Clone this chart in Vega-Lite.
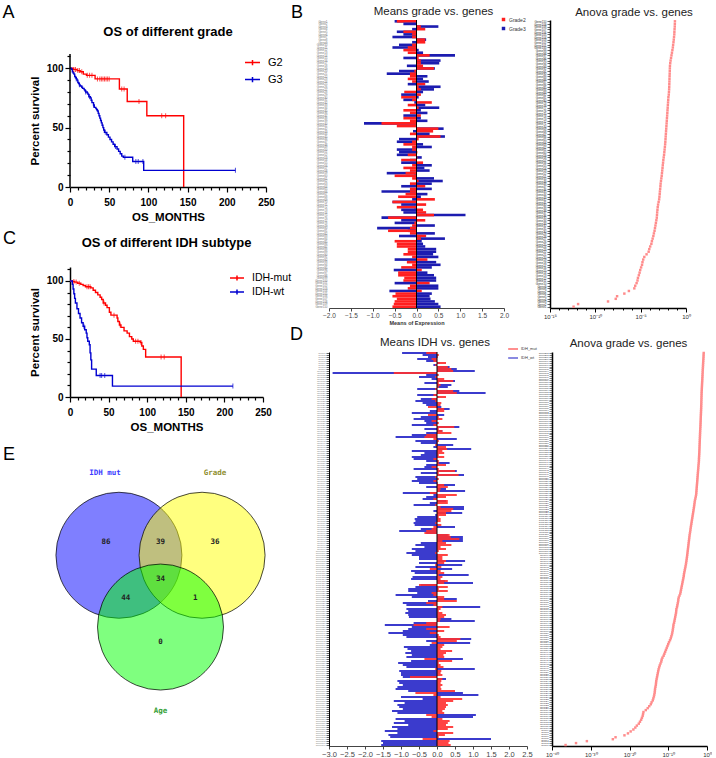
{
"$schema":"https://vega.github.io/schema/vega-lite/v6.json",
"padding":{"left":2,"top":3,"right":0,"bottom":0},
"config":{"view":{"stroke":null},"font":"Liberation Sans","axis":{"grid":false,"labelFlush":false,"labelOverlap":false},"title":{"font":"Liberation Sans"}},
"spacing":-2,
"resolve":{"scale":{"color":"independent","fill":"independent"}},
"hconcat":[
{"vconcat":[
 {"width":196,"height":167,
  "title":{"text":"OS of different grade","fontSize":13,"fontWeight":"bold","color":"#000","offset":0,"dy":35},
  "resolve":{"axis":{"x":"independent","y":"independent"}},
  "layer":[
   {"data":{"values":[
     {"k":"G2","t":0,"s":100},{"k":"G2","t":4,"s":99},{"k":"G2","t":9,"s":98},{"k":"G2","t":13,"s":97},{"k":"G2","t":17,"s":95},{"k":"G2","t":21,"s":94},{"k":"G2","t":32,"s":91},{"k":"G2","t":63,"s":82.5},{"k":"G2","t":73,"s":72},{"k":"G2","t":98,"s":60},{"k":"G2","t":145,"s":0},
     {"k":"G3","t":0,"s":100},{"k":"G3","t":2,"s":99},{"k":"G3","t":3,"s":97},{"k":"G3","t":4,"s":96},{"k":"G3","t":5,"s":95},{"k":"G3","t":6,"s":93},{"k":"G3","t":7,"s":92},{"k":"G3","t":8,"s":91},{"k":"G3","t":9,"s":90},{"k":"G3","t":10,"s":88},{"k":"G3","t":11,"s":87},{"k":"G3","t":12,"s":86},{"k":"G3","t":13,"s":85},{"k":"G3","t":15,"s":84},{"k":"G3","t":16,"s":83},{"k":"G3","t":18,"s":82},{"k":"G3","t":19,"s":81},{"k":"G3","t":20,"s":80},{"k":"G3","t":22,"s":79},{"k":"G3","t":23,"s":78},{"k":"G3","t":24,"s":76},{"k":"G3","t":26,"s":75},{"k":"G3","t":27,"s":73},{"k":"G3","t":28,"s":71},{"k":"G3","t":30,"s":69},{"k":"G3","t":31,"s":67},{"k":"G3","t":33,"s":66},{"k":"G3","t":34,"s":65},{"k":"G3","t":35,"s":64},{"k":"G3","t":36,"s":62},{"k":"G3","t":37,"s":60},{"k":"G3","t":38,"s":58},{"k":"G3","t":39,"s":56},{"k":"G3","t":40,"s":54},{"k":"G3","t":41,"s":52},{"k":"G3","t":42,"s":50},{"k":"G3","t":43,"s":48},{"k":"G3","t":44,"s":46},{"k":"G3","t":47,"s":44},{"k":"G3","t":49,"s":42},{"k":"G3","t":51,"s":40},{"k":"G3","t":53,"s":38},{"k":"G3","t":55,"s":36},{"k":"G3","t":57,"s":34},{"k":"G3","t":60,"s":32},{"k":"G3","t":62,"s":30},{"k":"G3","t":64,"s":28},{"k":"G3","t":66,"s":26},{"k":"G3","t":68,"s":25},{"k":"G3","t":80,"s":21.5},{"k":"G3","t":94,"s":14},{"k":"G3","t":211,"s":14}]},
    "mark":{"type":"line","interpolate":"step-after","strokeWidth":1.4},
    "encoding":{
     "x":{"field":"t","type":"quantitative","scale":{"domain":[0,250],"nice":false,"zero":false},"axis":{"title":"OS_MONTHS","values":[0,10,20,30,40,50,60,70,80,90,100,110,120,130,140,150,160,170,180,190,200,210,220,230,240,250],"labelExpr":"datum.value % 50 === 0 ? datum.label : ''","labelOverlap":false,"tickSize":{"condition":{"test":"datum.value % 50 === 0","value":5},"value":3},"domainColor":"#000","domainWidth":1.5,"tickColor":"#000","tickWidth":1.2,"labelColor":"#000","labelFontSize":10,"labelFontWeight":"bold","labelPadding":5,"titleColor":"#000","titleFontSize":11.5,"titleFontWeight":"bold","titlePadding":4}},
     "y":{"field":"s","type":"quantitative","scale":{"domain":[0,140.6],"nice":false,"zero":false},"axis":{"title":"Percent survival","titleY":100.5,"domain":false,"values":[0,10,20,30,40,50,60,70,80,90,100,110],"labelExpr":"datum.value % 50 === 0 ? datum.label : ''","labelOverlap":false,"tickSize":{"condition":{"test":"datum.value % 50 === 0","value":5},"value":3},"tickColor":"#000","tickWidth":1.2,"labelColor":"#000","labelFontSize":10,"labelFontWeight":"bold","labelPadding":2,"titleColor":"#000","titleFontSize":11.5,"titleFontWeight":"bold","titlePadding":6}},
     "color":{"field":"k","type":"nominal","scale":{"domain":["G2","G3"],"range":["#ff0000","#0000d0"]},"legend":{"title":null,"orient":"none","legendX":174,"legendY":34,"symbolType":"M-1,0L1,0M0,-0.35L0,0.35","symbolSize":225,"symbolStrokeWidth":1.5,"labelFontSize":11,"labelColor":"#000","rowPadding":2,"labelOffset":7}}}},
   {"data":{"values":[
     {"k":"G2","t":5,"s":99},{"k":"G2","t":7,"s":99},{"k":"G2","t":10,"s":98},{"k":"G2","t":12,"s":98},{"k":"G2","t":15,"s":97},{"k":"G2","t":22,"s":94},{"k":"G2","t":25,"s":94},{"k":"G2","t":28,"s":94},{"k":"G2","t":35,"s":91},{"k":"G2","t":38,"s":91},{"k":"G2","t":40,"s":91},{"k":"G2","t":42,"s":91},{"k":"G2","t":44,"s":91},{"k":"G2","t":46,"s":91},{"k":"G2","t":48,"s":91},{"k":"G2","t":50,"s":91},{"k":"G2","t":66,"s":82.5},{"k":"G2","t":69,"s":82.5},{"k":"G2","t":88,"s":72},{"k":"G2","t":117,"s":60},{"k":"G2","t":122,"s":60},
     {"k":"G3","t":8,"s":91},{"k":"G3","t":12,"s":86},{"k":"G3","t":20,"s":80},{"k":"G3","t":25,"s":76},{"k":"G3","t":30,"s":69},{"k":"G3","t":45,"s":46},{"k":"G3","t":58,"s":34},{"k":"G3","t":70,"s":25},{"k":"G3","t":84,"s":21.5},{"k":"G3","t":87,"s":21.5},{"k":"G3","t":93,"s":21.5},{"k":"G3","t":211,"s":14}]},
    "mark":{"type":"tick","orient":"vertical","size":5,"thickness":1},
    "encoding":{"x":{"field":"t","type":"quantitative","axis":null},"y":{"field":"s","type":"quantitative","axis":null},"color":{"field":"k","type":"nominal","legend":null}}},
   {"data":{"values":[{}]},"mark":{"type":"rule","color":"#000","strokeWidth":1.5},
    "encoding":{"x":{"datum":0,"type":"quantitative","axis":null},"y":{"datum":0,"type":"quantitative","axis":null},"y2":{"datum":112}}},
   {"data":{"values":[{}]},"mark":{"type":"text","fontSize":18,"align":"left","baseline":"alphabetic","color":"#000"},
    "encoding":{"x":{"datum":-86,"type":"quantitative","axis":null},"y":{"datum":142.3,"type":"quantitative","axis":null},"text":{"value":"A"}}}
  ]},
 {"width":193,"height":130,
  "title":{"text":"OS of different IDH subtype","fontSize":13,"fontWeight":"bold","color":"#000","offset":0,"dy":20},
  "resolve":{"axis":{"x":"independent","y":"independent"}},
  "layer":[
   {"data":{"values":[
     {"k":"IDH-mut","t":0,"s":100},{"k":"IDH-mut","t":3,"s":99.5},{"k":"IDH-mut","t":6,"s":99},{"k":"IDH-mut","t":10,"s":98},{"k":"IDH-mut","t":14,"s":97},{"k":"IDH-mut","t":17,"s":96},{"k":"IDH-mut","t":20,"s":95},{"k":"IDH-mut","t":27,"s":94},{"k":"IDH-mut","t":30,"s":92},{"k":"IDH-mut","t":33,"s":90},{"k":"IDH-mut","t":36,"s":88},{"k":"IDH-mut","t":39,"s":86},{"k":"IDH-mut","t":41,"s":84},{"k":"IDH-mut","t":43,"s":81},{"k":"IDH-mut","t":46,"s":79},{"k":"IDH-mut","t":48,"s":77},{"k":"IDH-mut","t":51,"s":73},{"k":"IDH-mut","t":53,"s":70.5},{"k":"IDH-mut","t":61,"s":68},{"k":"IDH-mut","t":62,"s":65},{"k":"IDH-mut","t":64,"s":62},{"k":"IDH-mut","t":66,"s":60},{"k":"IDH-mut","t":70,"s":57},{"k":"IDH-mut","t":74,"s":55},{"k":"IDH-mut","t":77,"s":52},{"k":"IDH-mut","t":80,"s":50},{"k":"IDH-mut","t":82,"s":48},{"k":"IDH-mut","t":91,"s":47},{"k":"IDH-mut","t":93,"s":44},{"k":"IDH-mut","t":95,"s":41},{"k":"IDH-mut","t":98,"s":34.5},{"k":"IDH-mut","t":144,"s":0},
     {"k":"IDH-wt","t":0,"s":100},{"k":"IDH-wt","t":3,"s":97},{"k":"IDH-wt","t":4,"s":93},{"k":"IDH-wt","t":5,"s":89},{"k":"IDH-wt","t":6,"s":85},{"k":"IDH-wt","t":7,"s":81},{"k":"IDH-wt","t":9,"s":76},{"k":"IDH-wt","t":11,"s":72},{"k":"IDH-wt","t":13,"s":68},{"k":"IDH-wt","t":15,"s":64},{"k":"IDH-wt","t":17,"s":61},{"k":"IDH-wt","t":19,"s":58},{"k":"IDH-wt","t":21,"s":55},{"k":"IDH-wt","t":22,"s":51},{"k":"IDH-wt","t":23,"s":48},{"k":"IDH-wt","t":25,"s":45},{"k":"IDH-wt","t":26,"s":38},{"k":"IDH-wt","t":27,"s":32},{"k":"IDH-wt","t":28,"s":24},{"k":"IDH-wt","t":34,"s":18.5},{"k":"IDH-wt","t":55,"s":9.4},{"k":"IDH-wt","t":211,"s":9.4}]},
    "mark":{"type":"line","interpolate":"step-after","strokeWidth":1.4},
    "encoding":{
     "x":{"field":"t","type":"quantitative","scale":{"domain":[0,250],"nice":false,"zero":false},"axis":{"title":"OS_MONTHS","values":[0,10,20,30,40,50,60,70,80,90,100,110,120,130,140,150,160,170,180,190,200,210,220,230,240,250],"labelExpr":"datum.value % 50 === 0 ? datum.label : ''","labelOverlap":false,"tickSize":{"condition":{"test":"datum.value % 50 === 0","value":5},"value":3},"domainColor":"#000","domainWidth":1.5,"tickColor":"#000","tickWidth":1.2,"labelColor":"#000","labelFontSize":10,"labelFontWeight":"bold","labelPadding":5,"titleColor":"#000","titleFontSize":11.5,"titleFontWeight":"bold","titlePadding":4}},
     "y":{"field":"s","type":"quantitative","scale":{"domain":[0,112],"nice":false,"zero":false},"axis":{"title":"Percent survival","values":[0,10,20,30,40,50,60,70,80,90,100,110],"labelExpr":"datum.value % 50 === 0 ? datum.label : ''","labelOverlap":false,"tickSize":{"condition":{"test":"datum.value % 50 === 0","value":5},"value":3},"domainColor":"#000","domainWidth":1.5,"tickColor":"#000","tickWidth":1.2,"labelColor":"#000","labelFontSize":10,"labelFontWeight":"bold","labelPadding":2,"titleColor":"#000","titleFontSize":11.5,"titleFontWeight":"bold","titlePadding":6}},
     "color":{"field":"k","type":"nominal","scale":{"domain":["IDH-mut","IDH-wt"],"range":["#ff0000","#0000d0"]},"legend":{"title":null,"orient":"none","legendX":159,"legendY":3,"symbolType":"M-1,0L1,0M0,-0.35L0,0.35","symbolSize":196,"symbolStrokeWidth":1.5,"labelFontSize":10.5,"labelColor":"#000","rowPadding":0,"labelOffset":7}}}},
   {"data":{"values":[
     {"k":"IDH-mut","t":5,"s":99.5},{"k":"IDH-mut","t":8,"s":99},{"k":"IDH-mut","t":12,"s":98},{"k":"IDH-mut","t":22,"s":95},{"k":"IDH-mut","t":24,"s":95},{"k":"IDH-mut","t":26,"s":95},{"k":"IDH-mut","t":44,"s":81},{"k":"IDH-mut","t":57,"s":70.5},{"k":"IDH-mut","t":65,"s":62},{"k":"IDH-mut","t":85,"s":48},{"k":"IDH-mut","t":88,"s":48},{"k":"IDH-mut","t":92,"s":47},{"k":"IDH-mut","t":118,"s":34.5},{"k":"IDH-mut","t":122,"s":34.5},
     {"k":"IDH-wt","t":18,"s":61},{"k":"IDH-wt","t":39,"s":18.5},{"k":"IDH-wt","t":41,"s":18.5},{"k":"IDH-wt","t":45,"s":18.5},{"k":"IDH-wt","t":211,"s":9.4}]},
    "mark":{"type":"tick","orient":"vertical","size":5,"thickness":1},
    "encoding":{"x":{"field":"t","type":"quantitative","axis":null},"y":{"field":"s","type":"quantitative","axis":null},"color":{"field":"k","type":"nominal","legend":null}}},
   {"data":{"values":[{}]},"mark":{"type":"text","fontSize":18,"align":"left","baseline":"alphabetic","color":"#000"},
    "encoding":{"x":{"datum":-86.8,"type":"quantitative","axis":null},"y":{"datum":131.8,"type":"quantitative","axis":null},"text":{"value":"C"}}}
  ]},
 {"width":181,"height":279,
  "layer":[
   {"data":{"values":[{"set":"IDH mut","cx":-0.66,"cy":0},{"set":"Grade","cx":0.66,"cy":0},{"set":"Age","cx":0,"cy":-1.14}]},
    "mark":{"type":"point","shape":"circle","filled":true,"size":15876,"opacity":1,"fillOpacity":0.5,"stroke":"#000","strokeWidth":0.8,"strokeOpacity":0.9},
    "encoding":{
     "x":{"field":"cx","type":"quantitative","scale":{"domain":[-1.437,1.437],"nice":false,"zero":false},"axis":null},
     "y":{"field":"cy","type":"quantitative","scale":{"domain":[-2.6,1.83],"nice":false,"zero":false},"axis":null},
     "fill":{"field":"set","type":"nominal","scale":{"domain":["IDH mut","Grade","Age"],"range":["#0000ff","#ffff00","#00ff00"]},"legend":null}}},
   {"data":{"values":[{"n":"86","cx":-0.865,"cy":0.21},{"n":"39","cx":0,"cy":0.21},{"n":"36","cx":0.865,"cy":0.21},{"n":"34","cx":0,"cy":-0.38},{"n":"44","cx":-0.55,"cy":-0.68},{"n":"1","cx":0.55,"cy":-0.68},{"n":"0","cx":0,"cy":-1.37}]},
    "mark":{"type":"text","font":"DejaVu Sans Mono","fontSize":7.5,"fontWeight":"bold","color":"#222","baseline":"middle","align":"center"},
    "encoding":{"x":{"field":"cx","type":"quantitative","axis":null},"y":{"field":"cy","type":"quantitative","axis":null},"text":{"field":"n"}}},
   {"data":{"values":[{"set":"IDH mut","cx":-0.88,"cy":1.3},{"set":"Grade","cx":0.865,"cy":1.3},{"set":"Age","cx":0,"cy":-2.48}]},
    "mark":{"type":"text","font":"DejaVu Sans Mono","fontSize":7.5,"fontWeight":"bold","baseline":"middle","align":"center"},
    "encoding":{"x":{"field":"cx","type":"quantitative","axis":null},"y":{"field":"cy","type":"quantitative","axis":null},"text":{"field":"set"},"color":{"field":"set","type":"nominal","scale":{"domain":["IDH mut","Grade","Age"],"range":["#3b3bff","#8f8f30","#35a035"]},"legend":null}}},
   {"data":{"values":[{}]},"mark":{"type":"text","fontSize":18,"align":"left","baseline":"alphabetic","color":"#000"},
    "encoding":{"x":{"datum":-2.5,"type":"quantitative","axis":null},"y":{"datum":1.52,"type":"quantitative","axis":null},"text":{"value":"E"}}}
  ]}
 ],
 "spacing":7,
 "resolve":{"scale":{"color":"independent","fill":"independent"}}
},
{"vconcat":[
 {"hconcat":[
  {"width":175,"height":288,
   "title":{"text":"Means grade vs. genes","fontSize":11.5,"fontWeight":"normal","color":"#222","offset":0,"dy":13,"dx":17},
   "resolve":{"axis":{"x":"independent","y":"independent"}},
   "layer":[
    {"data":{"values":[
{"g":1,"Grade2":-0.45,"Grade3":-0.5},{"g":2,"Grade2":0,"Grade3":-0.3},{"g":3,"Grade2":0.1,"Grade3":0.5},{"g":4,"Grade2":0.2,"Grade3":-0.1},{"g":5,"Grade2":-0.3,"Grade3":-0.45},{"g":6,"Grade2":-0.1,"Grade3":-0.3},{"g":7,"Grade2":-0.1,"Grade3":-0.55},{"g":8,"Grade2":0.2,"Grade3":0.22},{"g":9,"Grade2":0.2,"Grade3":-0.1},{"g":10,"Grade2":-0.1,"Grade3":-0.4},
{"g":11,"Grade2":-0.2,"Grade3":-0.55},{"g":12,"Grade2":-0.3,"Grade3":0.05},{"g":13,"Grade2":-0.2,"Grade3":0.15},{"g":14,"Grade2":0.3,"Grade3":0.88},{"g":15,"Grade2":0.05,"Grade3":-0.3},{"g":16,"Grade2":0.1,"Grade3":0.55},{"g":17,"Grade2":0.1,"Grade3":0.52},{"g":18,"Grade2":0.15,"Grade3":-0.22},{"g":19,"Grade2":0.4,"Grade3":0.42},{"g":20,"Grade2":-0.05,"Grade3":-0.4},
{"g":21,"Grade2":-0.15,"Grade3":-0.68},{"g":22,"Grade2":-0.15,"Grade3":0.25},{"g":23,"Grade2":-0.2,"Grade3":0.15},{"g":24,"Grade2":-0.1,"Grade3":0.28},{"g":25,"Grade2":0.2,"Grade3":-0.2},{"g":26,"Grade2":0.05,"Grade3":0.55},{"g":27,"Grade2":0.1,"Grade3":0.4},{"g":28,"Grade2":-0.28,"Grade3":0.15},{"g":29,"Grade2":0.1,"Grade3":-0.35},{"g":30,"Grade2":-0.35,"Grade3":0.05},
{"g":31,"Grade2":-0.1,"Grade3":-0.3},{"g":32,"Grade2":0.35,"Grade3":-0.05},{"g":33,"Grade2":-0.2,"Grade3":0.2},{"g":34,"Grade2":0.05,"Grade3":0.52},{"g":35,"Grade2":-0.3,"Grade3":0.1},{"g":36,"Grade2":-0.15,"Grade3":0.25},{"g":37,"Grade2":0.1,"Grade3":-0.3},{"g":38,"Grade2":-0.3,"Grade3":0.1},{"g":39,"Grade2":-0.15,"Grade3":0.25},{"g":40,"Grade2":-0.8,"Grade3":-1.2},
{"g":41,"Grade2":-0.45,"Grade3":0},{"g":42,"Grade2":0.5,"Grade3":0.62},{"g":43,"Grade2":0.38,"Grade3":-0.08},{"g":44,"Grade2":-0.15,"Grade3":0.3},{"g":45,"Grade2":0.55,"Grade3":0.65},{"g":46,"Grade2":0.05,"Grade3":-0.4},{"g":47,"Grade2":-0.1,"Grade3":-0.45},{"g":48,"Grade2":-0.3,"Grade3":0.15},{"g":49,"Grade2":-0.1,"Grade3":0.35},{"g":50,"Grade2":-0.1,"Grade3":-0.45},
{"g":51,"Grade2":0.02,"Grade3":-0.4},{"g":52,"Grade2":-0.2,"Grade3":-0.45},{"g":53,"Grade2":0.02,"Grade3":0.12},{"g":54,"Grade2":-0.35,"Grade3":-0.15},{"g":55,"Grade2":0.15,"Grade3":-0.35},{"g":56,"Grade2":-0.1,"Grade3":0.35},{"g":57,"Grade2":-0.3,"Grade3":0.18},{"g":58,"Grade2":-0.15,"Grade3":0.3},{"g":59,"Grade2":-0.25,"Grade3":-0.68},{"g":60,"Grade2":-0.5,"Grade3":-0.05},
{"g":61,"Grade2":-0.1,"Grade3":0.4},{"g":62,"Grade2":0.05,"Grade3":0.6},{"g":63,"Grade2":-0.15,"Grade3":0.35},{"g":64,"Grade2":0.2,"Grade3":-0.35},{"g":65,"Grade2":-0.15,"Grade3":0.35},{"g":66,"Grade2":-0.15,"Grade3":-0.8},{"g":67,"Grade2":-0.25,"Grade3":0.25},{"g":68,"Grade2":-0.42,"Grade3":0.1},{"g":69,"Grade2":0.42,"Grade3":-0.1},{"g":70,"Grade2":-0.55,"Grade3":-0.55},
{"g":71,"Grade2":0.22,"Grade3":-0.35},{"g":72,"Grade2":-0.45,"Grade3":-0.05},{"g":73,"Grade2":0.15,"Grade3":-0.35},{"g":74,"Grade2":0.22,"Grade3":-0.3},{"g":75,"Grade2":0.4,"Grade3":1.12},{"g":76,"Grade2":-0.65,"Grade3":-0.8},{"g":77,"Grade2":0.2,"Grade3":-0.35},{"g":78,"Grade2":-0.05,"Grade3":-0.5},{"g":79,"Grade2":-0.1,"Grade3":0.42},{"g":80,"Grade2":-0.15,"Grade3":-0.9},
{"g":81,"Grade2":-0.65,"Grade3":-0.2},{"g":82,"Grade2":-0.15,"Grade3":0.42},{"g":83,"Grade2":0.22,"Grade3":-0.4},{"g":84,"Grade2":0.1,"Grade3":0.65},{"g":85,"Grade2":-0.5,"Grade3":0.12},{"g":86,"Grade2":-0.45,"Grade3":0.15},{"g":87,"Grade2":-0.45,"Grade3":0.2},{"g":88,"Grade2":-0.2,"Grade3":0.45},{"g":89,"Grade2":-0.2,"Grade3":0.45},{"g":90,"Grade2":-0.3,"Grade3":0.38},
{"g":91,"Grade2":-0.1,"Grade3":0.5},{"g":92,"Grade2":0.25,"Grade3":-0.5},{"g":93,"Grade2":-0.22,"Grade3":0.45},{"g":94,"Grade2":-0.1,"Grade3":0.55},{"g":95,"Grade2":-0.35,"Grade3":0.35},{"g":96,"Grade2":0.12,"Grade3":-0.52},{"g":97,"Grade2":-0.42,"Grade3":0.25},{"g":98,"Grade2":-0.42,"Grade3":0.4},{"g":99,"Grade2":-0.28,"Grade3":0.45},{"g":100,"Grade2":-0.3,"Grade3":0.45},
{"g":101,"Grade2":0.3,"Grade3":-0.5},{"g":102,"Grade2":-0.15,"Grade3":0.5},{"g":103,"Grade2":-0.2,"Grade3":0.5},{"g":104,"Grade2":0.12,"Grade3":-0.62},{"g":105,"Grade2":-0.48,"Grade3":0.35},{"g":106,"Grade2":-0.55,"Grade3":0.3},{"g":107,"Grade2":-0.45,"Grade3":0.32},{"g":108,"Grade2":-0.5,"Grade3":0.42},{"g":109,"Grade2":-0.52,"Grade3":0.5},{"g":110,"Grade2":-0.55,"Grade3":0.55}]},
     "transform":[{"fold":["Grade3","Grade2"],"as":["grp","v"]}],
     "mark":{"type":"bar"},
     "encoding":{
      "y":{"field":"g","type":"ordinal","scale":{"paddingInner":0,"paddingOuter":0},"axis":{"title":null,"labelExpr":"'Gene' + datum.label","labelFontSize":3,"labelColor":"#777","ticks":false,"domain":false,"labelPadding":2}},
      "x":{"field":"v","type":"quantitative","stack":null,"scale":{"domain":[-2,2],"nice":false,"zero":false},"axis":{"title":"Means of Expression","values":[-2,-1.5,-1,-0.5,0,0.5,1,1.5,2],"format":".1f","labelOverlap":false,"labelFontSize":6.5,"labelColor":"#444","tickSize":3,"tickColor":"#444","domainColor":"#444","labelPadding":1,"titleFontSize":5.5,"titleFontWeight":"bold","titleColor":"#333","titlePadding":2}},
      "color":{"field":"grp","type":"nominal","scale":{"domain":["Grade2","Grade3"],"range":["#ff1f1f","#1c1cb0"]},"legend":{"title":null,"orient":"none","legendX":172,"legendY":-3,"symbolType":"square","symbolSize":12,"labelFontSize":5,"labelColor":"#333","rowPadding":3,"labelOffset":3,"symbolStrokeWidth":0}}
     }},
    {"data":{"values":[{}]},"mark":{"type":"rule","color":"#000","strokeWidth":1},"encoding":{"x":{"datum":0,"type":"quantitative","axis":null}}},
    {"data":{"values":[{}]},"mark":{"type":"text","fontSize":18,"align":"left","baseline":"alphabetic","color":"#000","dy":-3},
     "encoding":{"x":{"datum":-2.87,"type":"quantitative","axis":null},"y":{"datum":1,"type":"ordinal","axis":null},"text":{"value":"B"}}}
   ]},
  {"width":136,"height":288,
   "title":{"text":"Anova grade vs. genes","fontSize":11.5,"fontWeight":"normal","color":"#222","offset":3,"dy":1,"dx":16},
   "data":{"values":[
{"r":1,"lp":-12.4},{"r":2,"lp":-11.9},{"r":3,"lp":-8.6},{"r":4,"lp":-7.75},{"r":5,"lp":-7.6},{"r":6,"lp":-6.8},{"r":7,"lp":-6.3},{"r":8,"lp":-5.7},{"r":9,"lp":-5.6},{"r":10,"lp":-5.45},
{"r":11,"lp":-5.35},{"r":12,"lp":-5.3},{"r":13,"lp":-5.2},{"r":14,"lp":-5.12},{"r":15,"lp":-5.05},{"r":16,"lp":-4.95},{"r":17,"lp":-4.85},{"r":18,"lp":-4.8},{"r":19,"lp":-4.72},{"r":20,"lp":-4.6},
{"r":21,"lp":-4.35},{"r":22,"lp":-4.12},{"r":23,"lp":-4.05},{"r":24,"lp":-3.95},{"r":25,"lp":-3.82},{"r":26,"lp":-3.76},{"r":27,"lp":-3.68},{"r":28,"lp":-3.6},{"r":29,"lp":-3.54},{"r":30,"lp":-3.47},
{"r":31,"lp":-3.42},{"r":32,"lp":-3.37},{"r":33,"lp":-3.32},{"r":34,"lp":-3.27},{"r":35,"lp":-3.22},{"r":36,"lp":-3.2},{"r":37,"lp":-3.18},{"r":38,"lp":-3.15},{"r":39,"lp":-3.12},{"r":40,"lp":-3.08},
{"r":41,"lp":-3.02},{"r":42,"lp":-2.96},{"r":43,"lp":-2.93},{"r":44,"lp":-2.9},{"r":45,"lp":-2.88},{"r":46,"lp":-2.85},{"r":47,"lp":-2.82},{"r":48,"lp":-2.8},{"r":49,"lp":-2.76},{"r":50,"lp":-2.72},
{"r":51,"lp":-2.68},{"r":52,"lp":-2.65},{"r":53,"lp":-2.62},{"r":54,"lp":-2.59},{"r":55,"lp":-2.56},{"r":56,"lp":-2.53},{"r":57,"lp":-2.5},{"r":58,"lp":-2.46},{"r":59,"lp":-2.42},{"r":60,"lp":-2.39},
{"r":61,"lp":-2.36},{"r":62,"lp":-2.33},{"r":63,"lp":-2.3},{"r":64,"lp":-2.28},{"r":65,"lp":-2.26},{"r":66,"lp":-2.24},{"r":67,"lp":-2.22},{"r":68,"lp":-2.2},{"r":69,"lp":-2.18},{"r":70,"lp":-2.16},
{"r":71,"lp":-2.14},{"r":72,"lp":-2.12},{"r":73,"lp":-2.1},{"r":74,"lp":-2.08},{"r":75,"lp":-2.06},{"r":76,"lp":-2.04},{"r":77,"lp":-2.02},{"r":78,"lp":-2.0},{"r":79,"lp":-1.98},{"r":80,"lp":-1.96},
{"r":81,"lp":-1.94},{"r":82,"lp":-1.9},{"r":83,"lp":-1.88},{"r":84,"lp":-1.86},{"r":85,"lp":-1.85},{"r":86,"lp":-1.84},{"r":87,"lp":-1.83},{"r":88,"lp":-1.82},{"r":89,"lp":-1.81},{"r":90,"lp":-1.8},
{"r":91,"lp":-1.79},{"r":92,"lp":-1.78},{"r":93,"lp":-1.77},{"r":94,"lp":-1.74},{"r":95,"lp":-1.7},{"r":96,"lp":-1.65},{"r":97,"lp":-1.6},{"r":98,"lp":-1.55},{"r":99,"lp":-1.5},{"r":100,"lp":-1.45},
{"r":101,"lp":-1.42},{"r":102,"lp":-1.38},{"r":103,"lp":-1.35},{"r":104,"lp":-1.32},{"r":105,"lp":-1.29},{"r":106,"lp":-1.28},{"r":107,"lp":-1.26},{"r":108,"lp":-1.24},{"r":109,"lp":-1.23},{"r":110,"lp":-1.22}]},
   "mark":{"type":"point","shape":"square","filled":true,"size":6,"color":"#ff8c8c","opacity":1},
   "encoding":{
    "y":{"field":"r","type":"ordinal","sort":"descending","scale":{"padding":0.5},"axis":{"title":null,"labelExpr":"'Gene' + datum.label","labelFontSize":3,"labelColor":"#333","tickSize":3,"tickColor":"#000","tickWidth":0.6,"domainColor":"#000","domainWidth":1.5,"labelPadding":1}},
    "x":{"field":"lp","type":"quantitative","scale":{"domain":[-15,0],"nice":false,"zero":false},"axis":{"title":null,"values":[-15,-14,-13,-12,-11,-10,-9,-8,-7,-6,-5,-4,-3,-2,-1,0],"labelExpr":"datum.value === -15 ? '10⁻¹⁵' : datum.value === -10 ? '10⁻¹⁰' : datum.value === -5 ? '10⁻⁵' : datum.value === 0 ? '10⁰' : ''","labelOverlap":false,"tickSize":{"condition":{"test":"datum.value % 5 === 0","value":4},"value":2},"tickColor":"#000","domainColor":"#000","domainWidth":1.5,"labelFontSize":6,"labelColor":"#333","labelPadding":1}}
   }}
 ],"spacing":7,"resolve":{"scale":{"color":"independent"}}},
 {"hconcat":[
  {"width":198,"height":394,
   "title":{"text":"Means IDH vs. genes","fontSize":11.5,"fontWeight":"normal","color":"#222","offset":0,"dy":22,"dx":7},
   "resolve":{"axis":{"x":"independent","y":"independent"}},
   "layer":[
    {"data":{"values":[
{"g":1,"IDH_mut":-0.3,"IDH_wt":-0.97},{"g":2,"IDH_mut":0.05,"IDH_wt":-0.4},{"g":3,"IDH_mut":0.02,"IDH_wt":-0.25},{"g":4,"IDH_mut":-0.15,"IDH_wt":-0.55},{"g":5,"IDH_mut":-0.1,"IDH_wt":-0.3},{"g":6,"IDH_mut":0.25,"IDH_wt":0.08},{"g":7,"IDH_mut":-0.05,"IDH_wt":-0.1},{"g":8,"IDH_mut":0.3,"IDH_wt":0.35},{"g":9,"IDH_mut":0.4,"IDH_wt":0.55},{"g":10,"IDH_mut":0.45,"IDH_wt":1.05},
{"g":11,"IDH_mut":-1.2,"IDH_wt":-2.9},{"g":12,"IDH_mut":0.05,"IDH_wt":-0.3},{"g":13,"IDH_mut":-0.05,"IDH_wt":-0.5},{"g":14,"IDH_mut":0.2,"IDH_wt":-0.15},{"g":15,"IDH_mut":0.45,"IDH_wt":0.5},{"g":16,"IDH_mut":0.05,"IDH_wt":-0.35},{"g":17,"IDH_mut":0.1,"IDH_wt":0.4},{"g":18,"IDH_mut":0.05,"IDH_wt":0.3},{"g":19,"IDH_mut":-0.05,"IDH_wt":-0.55},{"g":20,"IDH_mut":0.45,"IDH_wt":0.62},
{"g":21,"IDH_mut":0.55,"IDH_wt":1.35},{"g":22,"IDH_mut":-0.1,"IDH_wt":-0.55},{"g":23,"IDH_mut":0.25,"IDH_wt":0.05},{"g":24,"IDH_mut":-0.15,"IDH_wt":-0.45},{"g":25,"IDH_mut":-0.05,"IDH_wt":-0.6},{"g":26,"IDH_mut":0.12,"IDH_wt":-0.4},{"g":27,"IDH_mut":0.1,"IDH_wt":-0.3},{"g":28,"IDH_mut":-0.25,"IDH_wt":0.12},{"g":29,"IDH_mut":0.2,"IDH_wt":0.35},{"g":30,"IDH_mut":0.2,"IDH_wt":-0.2},
{"g":31,"IDH_mut":0,"IDH_wt":-0.7},{"g":32,"IDH_mut":-0.25,"IDH_wt":0.2},{"g":33,"IDH_mut":0.05,"IDH_wt":-0.45},{"g":34,"IDH_mut":0.15,"IDH_wt":-0.65},{"g":35,"IDH_mut":-0.15,"IDH_wt":-0.35},{"g":36,"IDH_mut":0.05,"IDH_wt":-0.3},{"g":37,"IDH_mut":-0.1,"IDH_wt":-0.7},{"g":38,"IDH_mut":0.48,"IDH_wt":0.62},{"g":39,"IDH_mut":0.05,"IDH_wt":-0.35},{"g":40,"IDH_mut":0.15,"IDH_wt":0.15},
{"g":41,"IDH_mut":0.4,"IDH_wt":-0.3},{"g":42,"IDH_mut":-0.3,"IDH_wt":-0.7},{"g":43,"IDH_mut":-0.35,"IDH_wt":-1.15},{"g":44,"IDH_mut":-0.1,"IDH_wt":0.55},{"g":45,"IDH_mut":0.05,"IDH_wt":-0.6},{"g":46,"IDH_mut":0.02,"IDH_wt":-0.45},{"g":47,"IDH_mut":-0.05,"IDH_wt":0.45},{"g":48,"IDH_mut":0.25,"IDH_wt":-0.1},{"g":49,"IDH_mut":0.28,"IDH_wt":0.95},{"g":50,"IDH_mut":0.15,"IDH_wt":-0.7},
{"g":51,"IDH_mut":0.2,"IDH_wt":-0.35},{"g":52,"IDH_mut":0.05,"IDH_wt":-0.45},{"g":53,"IDH_mut":0.2,"IDH_wt":-0.7},{"g":54,"IDH_mut":-0.1,"IDH_wt":-0.65},{"g":55,"IDH_mut":0.05,"IDH_wt":-0.3},{"g":56,"IDH_mut":0.05,"IDH_wt":0.35},{"g":57,"IDH_mut":0.25,"IDH_wt":-0.3},{"g":58,"IDH_mut":-0.15,"IDH_wt":-0.35},{"g":59,"IDH_mut":0.05,"IDH_wt":-0.65},{"g":60,"IDH_mut":0.5,"IDH_wt":0.55},
{"g":61,"IDH_mut":0.05,"IDH_wt":-0.45},{"g":62,"IDH_mut":0.6,"IDH_wt":0.75},{"g":63,"IDH_mut":-0.05,"IDH_wt":-0.6},{"g":64,"IDH_mut":0.05,"IDH_wt":-0.55},{"g":65,"IDH_mut":-0.1,"IDH_wt":-0.7},{"g":66,"IDH_mut":0.02,"IDH_wt":-0.5},{"g":67,"IDH_mut":0.2,"IDH_wt":0.5},{"g":68,"IDH_mut":0.3,"IDH_wt":-0.3},{"g":69,"IDH_mut":0.1,"IDH_wt":0.25},{"g":70,"IDH_mut":0.08,"IDH_wt":0.78},
{"g":71,"IDH_mut":-0.2,"IDH_wt":-0.95},{"g":72,"IDH_mut":0.55,"IDH_wt":-0.1},{"g":73,"IDH_mut":0.25,"IDH_wt":-0.3},{"g":74,"IDH_mut":-0.1,"IDH_wt":-0.4},{"g":75,"IDH_mut":0.3,"IDH_wt":0.25},{"g":76,"IDH_mut":0.3,"IDH_wt":-0.2},{"g":77,"IDH_mut":-0.05,"IDH_wt":-0.65},{"g":78,"IDH_mut":0.1,"IDH_wt":0.75},{"g":79,"IDH_mut":0.45,"IDH_wt":0.75},{"g":80,"IDH_mut":0.4,"IDH_wt":-0.1},
{"g":81,"IDH_mut":0.25,"IDH_wt":0.7},{"g":82,"IDH_mut":0.25,"IDH_wt":-0.05},{"g":83,"IDH_mut":0.05,"IDH_wt":-0.55},{"g":84,"IDH_mut":0.1,"IDH_wt":-0.62},{"g":85,"IDH_mut":0.1,"IDH_wt":-0.6},{"g":86,"IDH_mut":-0.05,"IDH_wt":-0.65},{"g":87,"IDH_mut":0.12,"IDH_wt":-0.62},{"g":88,"IDH_mut":-0.1,"IDH_wt":0.5},{"g":89,"IDH_mut":-0.15,"IDH_wt":-0.45},{"g":90,"IDH_mut":-0.3,"IDH_wt":-1.05},
{"g":91,"IDH_mut":-0.35,"IDH_wt":-0.3},{"g":92,"IDH_mut":0.35,"IDH_wt":0.3},{"g":93,"IDH_mut":0.38,"IDH_wt":0.72},{"g":94,"IDH_mut":0.62,"IDH_wt":0.72},{"g":95,"IDH_mut":0.15,"IDH_wt":0.72},{"g":96,"IDH_mut":0.25,"IDH_wt":-0.45},{"g":97,"IDH_mut":0.4,"IDH_wt":-0.6},{"g":98,"IDH_mut":0.1,"IDH_wt":-0.35},{"g":99,"IDH_mut":0.25,"IDH_wt":-0.7},{"g":100,"IDH_mut":0.05,"IDH_wt":-0.6},
{"g":101,"IDH_mut":-0.05,"IDH_wt":-0.85},{"g":102,"IDH_mut":0.3,"IDH_wt":-0.7},{"g":103,"IDH_mut":0.15,"IDH_wt":-0.5},{"g":104,"IDH_mut":0.15,"IDH_wt":-0.5},{"g":105,"IDH_mut":0.25,"IDH_wt":0.78},{"g":106,"IDH_mut":0.2,"IDH_wt":-0.5},{"g":107,"IDH_mut":-0.05,"IDH_wt":0.7},{"g":108,"IDH_mut":0.12,"IDH_wt":-0.6},{"g":109,"IDH_mut":-0.2,"IDH_wt":0.42},{"g":110,"IDH_mut":0.1,"IDH_wt":-0.72},
{"g":111,"IDH_mut":0.2,"IDH_wt":-0.62},{"g":112,"IDH_mut":0.05,"IDH_wt":0.88},{"g":113,"IDH_mut":0.15,"IDH_wt":-0.68},{"g":114,"IDH_mut":0.1,"IDH_wt":-0.72},{"g":115,"IDH_mut":0.3,"IDH_wt":0.22},{"g":116,"IDH_mut":0.2,"IDH_wt":1.0},{"g":117,"IDH_mut":-0.5,"IDH_wt":-0.45},{"g":118,"IDH_mut":0.3,"IDH_wt":-0.6},{"g":119,"IDH_mut":0.05,"IDH_wt":-0.8},{"g":120,"IDH_mut":0.3,"IDH_wt":-0.8},
{"g":121,"IDH_mut":-0.15,"IDH_wt":-0.55},{"g":122,"IDH_mut":-0.1,"IDH_wt":-1.15},{"g":123,"IDH_mut":0.2,"IDH_wt":-0.7},{"g":124,"IDH_mut":0.2,"IDH_wt":0.55},{"g":125,"IDH_mut":0.55,"IDH_wt":-0.25},{"g":126,"IDH_mut":-0.3,"IDH_wt":-0.95},{"g":127,"IDH_mut":-0.1,"IDH_wt":-0.85},{"g":128,"IDH_mut":0.15,"IDH_wt":1.2},{"g":129,"IDH_mut":0.1,"IDH_wt":-0.85},{"g":130,"IDH_mut":0.05,"IDH_wt":-0.8},
{"g":131,"IDH_mut":0.15,"IDH_wt":-0.88},{"g":132,"IDH_mut":0.25,"IDH_wt":-0.8},{"g":133,"IDH_mut":0.2,"IDH_wt":-0.78},{"g":134,"IDH_mut":0.1,"IDH_wt":0.4},{"g":135,"IDH_mut":0.08,"IDH_wt":1.05},{"g":136,"IDH_mut":-0.3,"IDH_wt":-0.65},{"g":137,"IDH_mut":-0.65,"IDH_wt":-1.45},{"g":138,"IDH_mut":0.35,"IDH_wt":-0.7},{"g":139,"IDH_mut":-0.3,"IDH_wt":-0.8},{"g":140,"IDH_mut":0.2,"IDH_wt":-0.95},
{"g":141,"IDH_mut":-0.2,"IDH_wt":-1.35},{"g":142,"IDH_mut":0.05,"IDH_wt":-0.95},{"g":143,"IDH_mut":0.1,"IDH_wt":-0.85},{"g":144,"IDH_mut":0.65,"IDH_wt":0.95},{"g":145,"IDH_mut":0.55,"IDH_wt":-0.3},{"g":146,"IDH_mut":-0.15,"IDH_wt":0.92},{"g":147,"IDH_mut":0.2,"IDH_wt":-0.2},{"g":148,"IDH_mut":0.15,"IDH_wt":-0.92},{"g":149,"IDH_mut":0.1,"IDH_wt":-0.82},{"g":150,"IDH_mut":0.42,"IDH_wt":-0.72},
{"g":151,"IDH_mut":0.25,"IDH_wt":-0.88},{"g":152,"IDH_mut":0.18,"IDH_wt":-0.7},{"g":153,"IDH_mut":0.2,"IDH_wt":-0.85},{"g":154,"IDH_mut":-0.35,"IDH_wt":0.72},{"g":155,"IDH_mut":0.42,"IDH_wt":-0.72},{"g":156,"IDH_mut":0.05,"IDH_wt":-1.08},{"g":157,"IDH_mut":0.1,"IDH_wt":-0.95},{"g":158,"IDH_mut":0.18,"IDH_wt":-0.85},{"g":159,"IDH_mut":-0.05,"IDH_wt":1.05},{"g":160,"IDH_mut":0.12,"IDH_wt":-1.05},
{"g":161,"IDH_mut":0.1,"IDH_wt":-1.0},{"g":162,"IDH_mut":0.15,"IDH_wt":-1.0},{"g":163,"IDH_mut":-0.75,"IDH_wt":-0.95},{"g":164,"IDH_mut":0.15,"IDH_wt":0.25},{"g":165,"IDH_mut":0.12,"IDH_wt":-1.1},{"g":166,"IDH_mut":0.1,"IDH_wt":-1.05},{"g":167,"IDH_mut":0.15,"IDH_wt":-0.95},{"g":168,"IDH_mut":0.1,"IDH_wt":-1.1},{"g":169,"IDH_mut":0.12,"IDH_wt":-1.15},{"g":170,"IDH_mut":0.5,"IDH_wt":-0.8},
{"g":171,"IDH_mut":-0.6,"IDH_wt":0.72},{"g":172,"IDH_mut":-0.1,"IDH_wt":1.15},{"g":173,"IDH_mut":0.1,"IDH_wt":-1.0},{"g":174,"IDH_mut":0.7,"IDH_wt":-0.4},{"g":175,"IDH_mut":0.45,"IDH_wt":-1.2},{"g":176,"IDH_mut":0.25,"IDH_wt":-0.9},{"g":177,"IDH_mut":0.3,"IDH_wt":-1.1},{"g":178,"IDH_mut":0.25,"IDH_wt":-1.05},{"g":179,"IDH_mut":0.22,"IDH_wt":-0.95},{"g":180,"IDH_mut":0.15,"IDH_wt":-1.25},
{"g":181,"IDH_mut":0.2,"IDH_wt":-1.1},{"g":182,"IDH_mut":-0.3,"IDH_wt":1.08},{"g":183,"IDH_mut":-0.15,"IDH_wt":1.0},{"g":184,"IDH_mut":0.15,"IDH_wt":-1.15},{"g":185,"IDH_mut":0.35,"IDH_wt":-0.9},{"g":186,"IDH_mut":0.3,"IDH_wt":-1.2},{"g":187,"IDH_mut":0.25,"IDH_wt":-0.8},{"g":188,"IDH_mut":0.45,"IDH_wt":-1.25},{"g":189,"IDH_mut":0.3,"IDH_wt":-1.1},{"g":190,"IDH_mut":-0.1,"IDH_wt":-1.45},
{"g":191,"IDH_mut":0.45,"IDH_wt":-1.1},{"g":192,"IDH_mut":0.22,"IDH_wt":-1.35},{"g":193,"IDH_mut":0.05,"IDH_wt":-1.3},{"g":194,"IDH_mut":-0.4,"IDH_wt":1.5},{"g":195,"IDH_mut":0.35,"IDH_wt":-1.55},{"g":196,"IDH_mut":0.32,"IDH_wt":-1.5},{"g":197,"IDH_mut":0.38,"IDH_wt":-1.55}]},
     "transform":[{"fold":["IDH_wt","IDH_mut"],"as":["grp","v"]}],
     "mark":{"type":"bar","opacity":0.9},
     "encoding":{
      "y":{"field":"g","type":"ordinal","scale":{"paddingInner":0,"paddingOuter":0},"axis":{"title":null,"labelExpr":"'Gene' + datum.label","labelFontSize":2.4,"labelColor":"#777","tickSize":3,"tickColor":"#000","tickWidth":0.6,"domainColor":"#000","domainWidth":1,"labelPadding":1}},
      "x":{"field":"v","type":"quantitative","stack":null,"scale":{"domain":[-3,2.5],"nice":false,"zero":false},"axis":{"title":null,"values":[-3,-2.5,-2,-1.5,-1,-0.5,0,0.5,1,1.5,2,2.5],"format":".1f","labelOverlap":false,"labelFontSize":7.5,"labelColor":"#444","tickSize":3,"tickColor":"#444","domainColor":"#444","labelPadding":1}},
      "color":{"field":"grp","type":"nominal","scale":{"domain":["IDH_mut","IDH_wt"],"range":["#ff3030","#2626c8"]},"legend":{"title":null,"orient":"none","legendX":179,"legendY":-8,"symbolType":"M-1,-0.12L1,-0.12L1,0.12L-1,0.12Z","symbolSize":100,"symbolStrokeWidth":0,"labelFontSize":4,"labelColor":"#333","rowPadding":2,"labelOffset":3}}
     }},
    {"data":{"values":[{}]},"mark":{"type":"rule","color":"#000","strokeWidth":1},"encoding":{"x":{"datum":0,"type":"quantitative","axis":null}}},
    {"data":{"values":[{}]},"mark":{"type":"text","fontSize":18,"align":"left","baseline":"alphabetic","color":"#000","dy":-13},
     "encoding":{"x":{"datum":-4.08,"type":"quantitative","axis":null},"y":{"datum":1,"type":"ordinal","axis":null},"text":{"value":"D"}}}
   ]},
  {"width":155,"height":394,
   "title":{"text":"Anova grade vs. genes","fontSize":11.5,"fontWeight":"normal","color":"#222","offset":3,"dy":1,"dx":-1},
   "data":{"values":[
{"r":1,"lp":-36.5},{"r":2,"lp":-33.8},{"r":3,"lp":-31.0},{"r":4,"lp":-24.3},{"r":5,"lp":-23.6},{"r":6,"lp":-21.3},{"r":7,"lp":-20.4},{"r":8,"lp":-19.7},{"r":9,"lp":-19.0},{"r":10,"lp":-18.5},
{"r":11,"lp":-18.1},{"r":12,"lp":-17.6},{"r":13,"lp":-17.3},{"r":14,"lp":-17.0},{"r":15,"lp":-16.8},{"r":16,"lp":-16.6},{"r":17,"lp":-16.5},{"r":18,"lp":-16.4},{"r":19,"lp":-15.8},{"r":20,"lp":-15.3},
{"r":21,"lp":-14.9},{"r":22,"lp":-14.5},{"r":23,"lp":-14.3},{"r":24,"lp":-14.0},{"r":25,"lp":-13.85},{"r":26,"lp":-13.7},{"r":27,"lp":-13.6},{"r":28,"lp":-13.5},{"r":29,"lp":-13.45},{"r":30,"lp":-13.4},
{"r":31,"lp":-13.3},{"r":32,"lp":-13.2},{"r":33,"lp":-13.15},{"r":34,"lp":-13.1},{"r":35,"lp":-13.0},{"r":36,"lp":-12.9},{"r":37,"lp":-12.8},{"r":38,"lp":-12.7},{"r":39,"lp":-12.6},{"r":40,"lp":-12.5},
{"r":41,"lp":-12.35},{"r":42,"lp":-12.2},{"r":43,"lp":-12.0},{"r":44,"lp":-11.8},{"r":45,"lp":-11.7},{"r":46,"lp":-11.5},{"r":47,"lp":-11.2},{"r":48,"lp":-11.0},{"r":49,"lp":-10.8},{"r":50,"lp":-10.6},
{"r":51,"lp":-10.4},{"r":52,"lp":-10.2},{"r":53,"lp":-10.0},{"r":54,"lp":-9.8},{"r":55,"lp":-9.55},{"r":56,"lp":-9.35},{"r":57,"lp":-9.2},{"r":58,"lp":-9.05},{"r":59,"lp":-8.95},{"r":60,"lp":-8.85},
{"r":61,"lp":-8.78},{"r":62,"lp":-8.7},{"r":63,"lp":-8.65},{"r":64,"lp":-8.5},{"r":65,"lp":-8.4},{"r":66,"lp":-8.3},{"r":67,"lp":-8.2},{"r":68,"lp":-8.1},{"r":69,"lp":-8.0},{"r":70,"lp":-7.95},
{"r":71,"lp":-7.9},{"r":72,"lp":-7.75},{"r":73,"lp":-7.65},{"r":74,"lp":-7.55},{"r":75,"lp":-7.45},{"r":76,"lp":-7.4},{"r":77,"lp":-7.3},{"r":78,"lp":-7.1},{"r":79,"lp":-6.9},{"r":80,"lp":-6.8},
{"r":81,"lp":-6.7},{"r":82,"lp":-6.6},{"r":83,"lp":-6.5},{"r":84,"lp":-6.4},{"r":85,"lp":-6.3},{"r":86,"lp":-6.2},{"r":87,"lp":-6.1},{"r":88,"lp":-6.0},{"r":89,"lp":-5.95},{"r":90,"lp":-5.85},
{"r":91,"lp":-5.75},{"r":92,"lp":-5.65},{"r":93,"lp":-5.55},{"r":94,"lp":-5.45},{"r":95,"lp":-5.38},{"r":96,"lp":-5.3},{"r":97,"lp":-5.23},{"r":98,"lp":-5.16},{"r":99,"lp":-5.1},{"r":100,"lp":-5.04},
{"r":101,"lp":-4.98},{"r":102,"lp":-4.92},{"r":103,"lp":-4.86},{"r":104,"lp":-4.8},{"r":105,"lp":-4.74},{"r":106,"lp":-4.68},{"r":107,"lp":-4.62},{"r":108,"lp":-4.56},{"r":109,"lp":-4.5},{"r":110,"lp":-4.42},
{"r":111,"lp":-4.34},{"r":112,"lp":-4.27},{"r":113,"lp":-4.2},{"r":114,"lp":-4.12},{"r":115,"lp":-4.04},{"r":116,"lp":-3.96},{"r":117,"lp":-3.88},{"r":118,"lp":-3.8},{"r":119,"lp":-3.72},{"r":120,"lp":-3.64},
{"r":121,"lp":-3.56},{"r":122,"lp":-3.48},{"r":123,"lp":-3.4},{"r":124,"lp":-3.33},{"r":125,"lp":-3.26},{"r":126,"lp":-3.19},{"r":127,"lp":-3.12},{"r":128,"lp":-3.0},{"r":129,"lp":-2.9},{"r":130,"lp":-2.8},
{"r":131,"lp":-2.76},{"r":132,"lp":-2.72},{"r":133,"lp":-2.68},{"r":134,"lp":-2.64},{"r":135,"lp":-2.6},{"r":136,"lp":-2.56},{"r":137,"lp":-2.52},{"r":138,"lp":-2.48},{"r":139,"lp":-2.44},{"r":140,"lp":-2.4},
{"r":141,"lp":-2.36},{"r":142,"lp":-2.32},{"r":143,"lp":-2.28},{"r":144,"lp":-2.24},{"r":145,"lp":-2.2},{"r":146,"lp":-2.15},{"r":147,"lp":-2.1},{"r":148,"lp":-2.08},{"r":149,"lp":-2.06},{"r":150,"lp":-2.03},
{"r":151,"lp":-2.0},{"r":152,"lp":-1.98},{"r":153,"lp":-1.96},{"r":154,"lp":-1.94},{"r":155,"lp":-1.92},{"r":156,"lp":-1.9},{"r":157,"lp":-1.88},{"r":158,"lp":-1.86},{"r":159,"lp":-1.84},{"r":160,"lp":-1.82},
{"r":161,"lp":-1.8},{"r":162,"lp":-1.78},{"r":163,"lp":-1.76},{"r":164,"lp":-1.73},{"r":165,"lp":-1.7},{"r":166,"lp":-1.68},{"r":167,"lp":-1.66},{"r":168,"lp":-1.64},{"r":169,"lp":-1.62},{"r":170,"lp":-1.6},
{"r":171,"lp":-1.58},{"r":172,"lp":-1.56},{"r":173,"lp":-1.54},{"r":174,"lp":-1.52},{"r":175,"lp":-1.5},{"r":176,"lp":-1.49},{"r":177,"lp":-1.47},{"r":178,"lp":-1.46},{"r":179,"lp":-1.44},{"r":180,"lp":-1.43},
{"r":181,"lp":-1.41},{"r":182,"lp":-1.4},{"r":183,"lp":-1.38},{"r":184,"lp":-1.35},{"r":185,"lp":-1.33},{"r":186,"lp":-1.3},{"r":187,"lp":-1.28},{"r":188,"lp":-1.25},{"r":189,"lp":-1.22},{"r":190,"lp":-1.2},
{"r":191,"lp":-1.17},{"r":192,"lp":-1.15},{"r":193,"lp":-1.12},{"r":194,"lp":-1.1},{"r":195,"lp":-1.07},{"r":196,"lp":-1.04},{"r":197,"lp":-1.02},{"r":198,"lp":-0.99},{"r":199,"lp":-0.96},{"r":200,"lp":-0.93},
{"r":201,"lp":-0.9},{"r":202,"lp":-0.88},{"r":203,"lp":-0.85}]},
   "mark":{"type":"point","shape":"square","filled":true,"size":6,"color":"#ff8c8c","opacity":1},
   "encoding":{
    "y":{"field":"r","type":"ordinal","sort":"descending","scale":{"padding":0.5},"axis":{"title":null,"labelExpr":"'Gene' + datum.label","labelFontSize":2.4,"labelColor":"#333","tickSize":3,"tickColor":"#000","tickWidth":0.5,"domainColor":"#000","domainWidth":1.5,"labelPadding":1}},
    "x":{"field":"lp","type":"quantitative","scale":{"domain":[-40,0],"nice":false,"zero":false},"axis":{"title":null,"values":[-40,-30,-20,-10,0],"labelExpr":"datum.value === -40 ? '10⁻⁴⁰' : datum.value === -30 ? '10⁻³⁰' : datum.value === -20 ? '10⁻²⁰' : datum.value === -10 ? '10⁻¹⁰' : '10⁰'","labelOverlap":false,"tickSize":4,"tickColor":"#000","domainColor":"#000","domainWidth":1.5,"labelFontSize":6,"labelColor":"#333","labelPadding":1}}
   }}
 ],"spacing":1,"resolve":{"scale":{"color":"independent"}}}
],
"spacing":0,
"resolve":{"scale":{"color":"independent"}}
}
]
}
